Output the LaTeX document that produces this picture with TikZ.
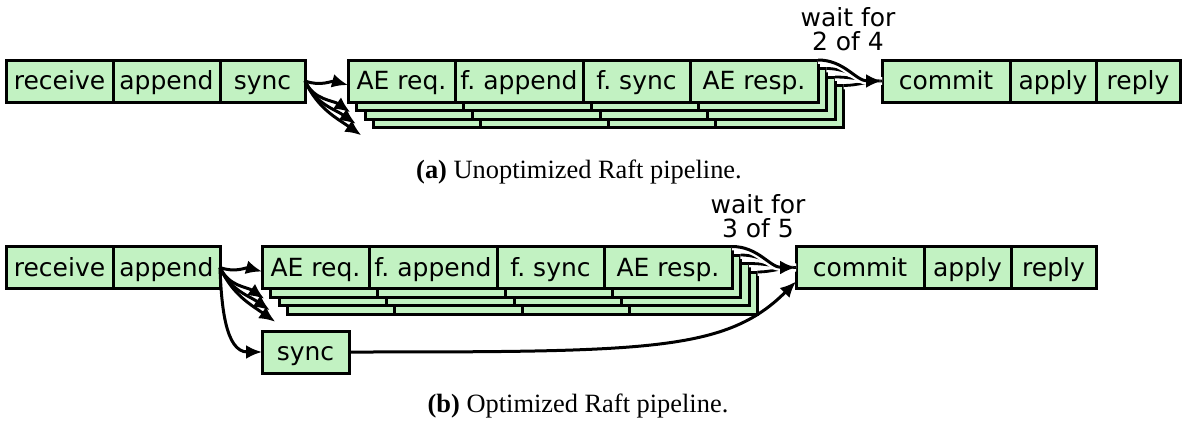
\documentclass[tikz,border=0pt]{standalone}
\usepackage{fontspec}
\setmainfont{Liberation Serif}
\newfontfamily\dejavu{DejaVu Sans}
\usepackage{xcolor}
\definecolor{cStage}{HTML}{C2F2C2}
\usetikzlibrary{arrows.meta,positioning}

\begin{document}
\begin{tikzpicture}[x=0.5pt,y=-0.5pt,
  font=\dejavu\fontsize{12.5}{12}\selectfont,
  every node/.style={align=center},
  S/.style={draw,fill=cStage,line width=1.5pt,minimum height=21pt,inner sep=0pt,
    outer sep=0pt,anchor=west,text height=10.5pt,text depth=1.7pt},
  sw/.style={S,minimum width=53.5pt},
  mw/.style={S,minimum width=64pt},
  nw/.style={S,minimum width=42.5pt},
  e/.style={-{Latex[length=8pt,width=7pt]},line width=1.5pt},
  w/.style={line width=1.4pt,preaction={draw=white,line width=3.8pt}},
  capt/.style={font=\rmfamily\fontsize{13.2}{15}\selectfont}]
\useasboundingbox (0,0) rectangle (1185,423);

% --- (a) unoptimized ---
\node[sw] (rcv1) at (6,81) {receive};
\node[sw,right=0pt of rcv1] (app1) {append};
\node[nw,right=0pt of app1] (syn1) {sync};

% follower copies, back to front
\foreach \k in {3,2,1}{
  \node[sw] (aer1\k) at (348+8.5*\k,81+8.5*\k) {};
  \node[mw,right=0pt of aer1\k] (fap1\k) {};
  \node[sw,right=0pt of fap1\k] (fsy1\k) {};
  \node[mw,right=0pt of fsy1\k] (aes1\k) {};
}
\node[sw] (aer1) at (348,81) {AE req.};
\node[mw,right=0pt of aer1] (fap1) {f.\ append};
\node[sw,right=0pt of fap1] (fsy1) {f.\ sync};
\node[mw,right=0pt of fsy1] (aes1) {AE resp.};

\node[mw] (cmt1) at (882,81) {commit};
\node[S,minimum width=43pt,right=0pt of cmt1] (apl1) {apply};
\node[S,minimum width=42pt,right=0pt of apl1] (rpl1) {reply};

\node (wait1) at (848,29) {wait for\\2 of 4};

\draw[e] (syn1.east) to[out=-20,in=165] ([yshift=-2pt]aer1.west);
\foreach \k in {1,2,3}
  \draw[e] (syn1.east) to[out=-65,in=145]
    ([xshift={-(1.6+1.5*\k)*1pt},yshift={-(1.5*\k-0.6)*1pt}]aer1\k.south west);
\foreach \k in {3,2,1}
  \draw[w] (aes1\k.north east) to[out=0,in=180] (cmt1.west);
\draw[w,e] (aes1.north east) to[out=0,in=180] (cmt1.west);

\node[capt] (capa) at (579,172) {\textbf{(a)} Unoptimized Raft pipeline.};

% --- (b) optimized ---
\node[sw] (rcv2) at (6,267.5) {receive};
\node[sw,right=0pt of rcv2] (app2) {append};

\foreach \k in {3,2,1}{
  \node[sw] (aer2\k) at (262+8.5*\k,267.5+8.5*\k) {};
  \node[mw,right=0pt of aer2\k] (fap2\k) {};
  \node[sw,right=0pt of fap2\k] (fsy2\k) {};
  \node[mw,right=0pt of fsy2\k] (aes2\k) {};
}
\node[sw] (aer2) at (262,267.5) {AE req.};
\node[mw,right=0pt of aer2] (fap2) {f.\ append};
\node[sw,right=0pt of fap2] (fsy2) {f.\ sync};
\node[mw,right=0pt of fsy2] (aes2) {AE resp.};
\node[S,minimum width=43.5pt] (syn2) at (262,352) {sync};

\node[mw] (cmt2) at (796,267.5) {commit};
\node[S,minimum width=43.5pt,right=0pt of cmt2] (apl2) {apply};
\node[S,minimum width=42.5pt,right=0pt of apl2] (rpl2) {reply};

\node (wait2) at (758,216) {wait for\\3 of 5};

\draw[e] (app2.east) to[out=-20,in=165] ([yshift=-2pt]aer2.west);
\foreach \k in {1,2,3}
  \draw[e] (app2.east) to[out=-65,in=145]
    ([xshift={-(1.6+1.5*\k)*1pt},yshift={-(1.5*\k-0.6)*1pt}]aer2\k.south west);
\draw[e] (app2.east) to[out=-88,in=180] (syn2.west);
\foreach \k in {3,2,1}
  \draw[w] (aes2\k.north east) to[out=0,in=180] (cmt2.west);
\draw[w,e] (aes2.north east) to[out=0,in=180] (cmt2.west);
\draw[e] (syn2.east) .. controls +(300,0) and +(-70,70) .. ([yshift=-7pt]cmt2.west);

\node[capt] (capb) at (578,406) {\textbf{(b)} Optimized Raft pipeline.};
\end{tikzpicture}
\end{document}
